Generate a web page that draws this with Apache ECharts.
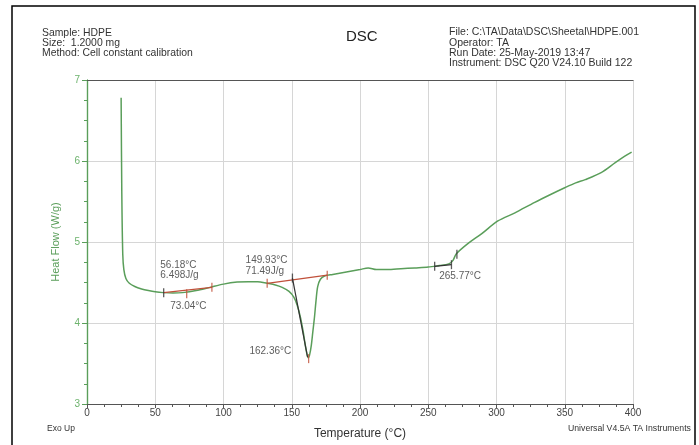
<!DOCTYPE html>
<html>
<head>
<meta charset="utf-8">
<script src="https://cdn.jsdelivr.net/npm/echarts@6/dist/echarts.min.js"></script>
<style>
html,body{margin:0;padding:0;background:#fff;}
#chart{width:699px;height:445px;}
</style>
</head>
<body>
<div id="chart"></div>
<script>
// ---- data ----
var temperature = [25.0, 25.5, 26.2, 27.0, 28.5, 31, 35, 40, 45, 50, 56, 63, 70, 80, 90, 100, 110, 118, 125, 132, 138, 143, 148, 151.5, 154, 156.5, 158.5, 160.3, 162, 163, 164.3, 165.5, 166.7, 167.8, 169, 171, 174, 180, 190, 200, 206, 212, 220, 230, 240, 250, 258, 265, 268, 270.6, 279, 289, 301, 313.5, 328, 340, 350, 358, 365, 377, 387, 394, 399];
var heatFlow = [6.78, 5.6, 4.85, 4.66, 4.55, 4.49, 4.45, 4.42, 4.40, 4.385, 4.375, 4.37, 4.375, 4.40, 4.44, 4.48, 4.505, 4.51, 4.51, 4.49, 4.47, 4.44, 4.39, 4.32, 4.22, 4.06, 3.88, 3.69, 3.57, 3.60, 3.72, 3.90, 4.08, 4.28, 4.45, 4.54, 4.58, 4.60, 4.63, 4.66, 4.68, 4.66, 4.66, 4.67, 4.68, 4.69, 4.71, 4.73, 4.77, 4.855, 4.98, 5.10, 5.26, 5.36, 5.49, 5.59, 5.67, 5.73, 5.77, 5.86, 5.98, 6.06, 6.11];

var xTicks = [0, 50, 100, 150, 200, 250, 300, 350, 400];
var yTicks = [3, 4, 5, 6, 7];

// analysis annotations
var baseline1 = [[56.18, 4.375], [91.5, 4.44]];
var baseline2 = [[132, 4.49], [176, 4.59]];
var tangent2 = [[150.5, 4.555], [161.6, 3.58]];
var onset3 = [[254.7, 4.70], [267, 4.72]];
var redTicks = [[73.04, 4.36], [91.5, 4.44], [132, 4.49], [176, 4.59], [162.36, 3.56]];
var darkTicks = [[56.18, 4.375], [150.5, 4.555], [254.7, 4.70], [267, 4.72], [271, 4.85]];
var annotationTexts = ['56.18°C', '6.498J/g', '73.04°C', '149.93°C', '71.49J/g', '162.36°C', '265.77°C'];
var annotationAnchors = [[53.7, 4.71], [53.7, 4.585], [61, 4.21], [116.2, 4.77], [116.2, 4.635], [119, 3.65], [258, 4.58]];

var headerLeft = ['Sample: HDPE', 'Size:  1.2000 mg', 'Method: Cell constant calibration'];
var headerRight = ['File: C:\\TA\\Data\\DSC\\Sheetal\\HDPE.001', 'Operator: TA', 'Run Date: 25-May-2019 13:47', 'Instrument: DSC Q20 V24.10 Build 122'];

// ---- chart ----
var green = '#5a9e5a';
var font = 'Liberation Sans, Arial, sans-serif';
var chart = echarts.init(document.getElementById('chart'), null, {renderer: 'canvas'});

var curve = temperature.map(function (t, i) { return [t, heatFlow[i]]; });

function seg(data, color, width) {
  return {type: 'line', data: data, symbol: 'none', silent: true, animation: false,
    lineStyle: {color: color, width: width}, z: 4};
}

var graphics = [
  {type: 'rect', shape: {x: 12, y: 6, width: 683, height: 460}, style: {fill: 'none', stroke: '#000', lineWidth: 1.5}, silent: true},
  {type: 'text', left: 346, top: 29, style: {text: 'DSC', font: '15px ' + font, fill: '#222'}},
  {type: 'text', left: 47, top: 424, style: {text: 'Exo Up', font: '8.5px ' + font, fill: '#333'}},
  {type: 'text', left: 568, top: 424, style: {text: 'Universal V4.5A TA Instruments', font: '8.7px ' + font, fill: '#333'}}
];
headerLeft.forEach(function (s, i) {
  graphics.push({type: 'text', left: 42, top: 28 + i * 10.3, style: {text: s, font: '10.4px ' + font, fill: '#333'}});
});
headerRight.forEach(function (s, i) {
  graphics.push({type: 'text', left: 449, top: 27 + i * 10.3, style: {text: s, font: '10.5px ' + font, fill: '#333'}});
});

var option = {
  backgroundColor: '#fff',
  animation: false,
  grid: {left: 87, right: 66, top: 80, bottom: 39},
  xAxis: [{
    type: 'value', min: xTicks[0], max: xTicks[xTicks.length - 1], interval: 50,
    name: 'Temperature (°C)', nameLocation: 'middle', nameGap: 24,
    nameTextStyle: {fontFamily: font, fontSize: 12, color: '#333'},
    axisLine: {show: true, onZero: false, lineStyle: {color: '#555', width: 1.2}},
    axisTick: {show: true, length: 4, lineStyle: {color: '#555'}},
    minorTick: {show: true, splitNumber: 4, length: 3, lineStyle: {color: '#555'}},
    axisLabel: {fontFamily: font, fontSize: 10, color: '#444', margin: 4},
    splitLine: {show: true, lineStyle: {color: '#d6d6d6', width: 1}}
  }, {
    type: 'value', position: 'top', min: 0, max: 400,
    axisLine: {show: true, lineStyle: {color: '#555', width: 1.2}},
    axisTick: {show: false}, axisLabel: {show: false}, splitLine: {show: false}
  }],
  yAxis: [{
    type: 'value', min: yTicks[0], max: yTicks[yTicks.length - 1], interval: 1,
    name: 'Heat Flow (W/g)', nameLocation: 'middle', nameGap: 26, nameRotate: 90,
    nameTextStyle: {fontFamily: font, fontSize: 11, color: green},
    axisLine: {show: true, lineStyle: {color: green, width: 1.2}},
    axisTick: {show: true, length: 5, lineStyle: {color: green}},
    minorTick: {show: true, splitNumber: 4, length: 3, lineStyle: {color: green}},
    axisLabel: {fontFamily: font, fontSize: 10, color: '#6db36d', margin: 7},
    splitLine: {show: true, lineStyle: {color: '#d6d6d6', width: 1}}
  }, {
    type: 'value', position: 'right', min: 3, max: 7,
    axisLine: {show: true, lineStyle: {color: green, width: 1.2}},
    axisTick: {show: false}, axisLabel: {show: false}, splitLine: {show: false}
  }],
  series: [
    {type: 'line', data: curve, symbol: 'none', smooth: 0.3, lineStyle: {color: green, width: 1.5}, z: 3, animation: false},
    seg(baseline1, '#c0503a', 1.2),
    seg(baseline2, '#c0503a', 1.2),
    seg(tangent2, '#333', 1.2),
    seg(onset3, '#333', 1.2),
    {type: 'scatter', data: redTicks, symbol: 'rect', symbolSize: [1.3, 9], itemStyle: {color: '#c0503a'}, z: 5, silent: true, animation: false},
    {type: 'scatter', data: darkTicks, symbol: 'rect', symbolSize: [1.3, 9], itemStyle: {color: '#333'}, z: 5, silent: true, animation: false},
    {type: 'scatter', data: annotationAnchors.map(function (p, i) { return {value: p, name: annotationTexts[i]}; }),
      symbolSize: 0, silent: true, animation: false, z: 6,
      label: {show: true, position: 'right', distance: 0, formatter: '{b}', fontFamily: font, fontSize: 10, color: '#333'}}
  ],
  graphic: graphics
};
chart.setOption(option);
</script>
</body>
</html>
